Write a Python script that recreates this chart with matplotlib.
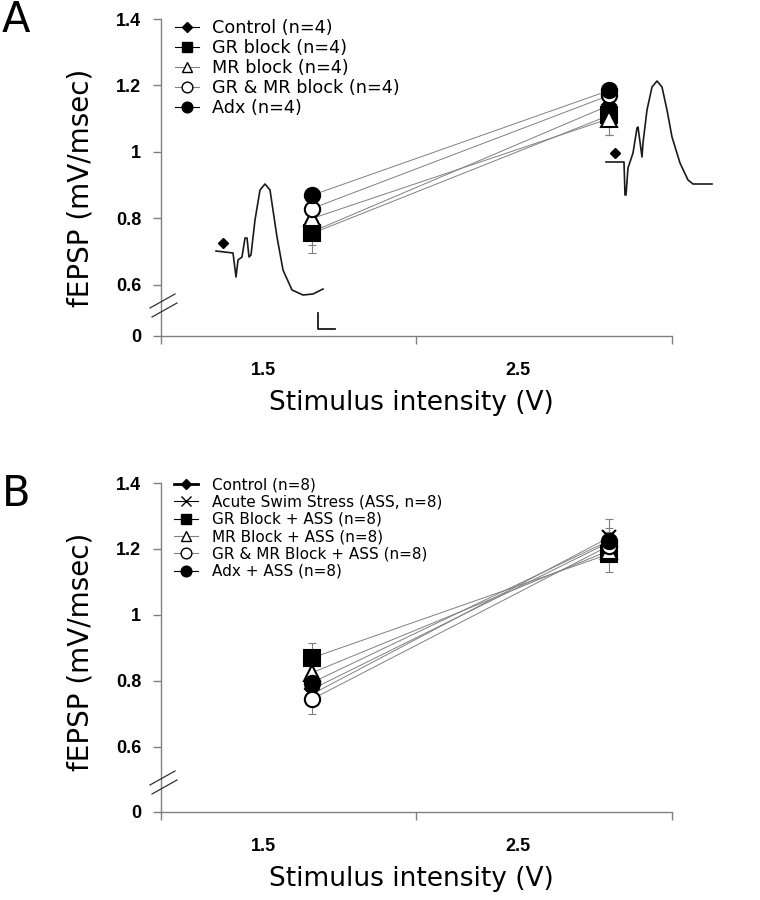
import numpy as np
import matplotlib
matplotlib.use("Agg")
import matplotlib.pyplot as plt

# stimulus intensity (V)
stim = [1.5, 2.5]
tick_text = ["1.5", "2.5"]

# panel A - fEPSP slope (mV/msec), mean and error
labels_a = ["Control (n=4)", "GR block (n=4)", "MR block (n=4)",
            "GR & MR block (n=4)", "Adx (n=4)"]
ctrl_a = [0.76, 1.14]
gr_a = [0.755, 1.11]
mr_a = [0.80, 1.10]
grmr_a = [0.83, 1.17]
adx_a = [0.87, 1.185]
err_ctrl_a = [0.04, 0.04]
err_gr_a = [0.06, 0.06]
err_mr_a = [0.05, 0.05]
err_grmr_a = [0.03, 0.03]
err_adx_a = [0.015, 0.015]

# panel B
labels_b = ["Control (n=8)", "Acute Swim Stress (ASS, n=8)", "GR Block + ASS (n=8)",
            "MR Block + ASS (n=8)", "GR & MR Block + ASS (n=8)", "Adx + ASS (n=8)"]
ctrl_b = [0.775, 1.22]
ass_b = [0.76, 1.235]
gr_b = [0.87, 1.185]
mr_b = [0.825, 1.195]
grmr_b = [0.745, 1.21]
adx_b = [0.795, 1.225]
err_ctrl_b = [0.03, 0.03]
err_ass_b = [0.03, 0.03]
err_gr_b = [0.045, 0.055]
err_mr_b = [0.03, 0.03]
err_grmr_b = [0.045, 0.03]
err_adx_b = [0.03, 0.065]

# example fEPSP traces (time px, amplitude px)
trace1_t = [0, 17, 20, 22, 26, 29, 31, 33, 35, 39, 44, 49, 54, 61, 67, 76, 87, 97, 107]
trace1_v = [0, -2, -26, -9, -6, 13, 13, -6, -4, 31, 61, 67, 61, 14, -19, -39, -44, -43, -38]
trace2_t = [0, 18, 19, 20, 22, 27, 31, 32, 36, 37, 41, 46, 51, 56, 61, 66, 74, 82, 87, 106]
trace2_v = [0, 0, -33, -33, -6, 9, 34, 35, 5, 19, 52, 75, 81, 75, 52, 25, -1, -18, -22, -22]

W, H = 760, 900
fig = plt.figure(figsize=(7.6, 9), dpi=100)

GRAY = "#808080"
x_left, x_mid, x_right = 0.9916, 1.850, 2.712
x_lab = [1.335, 2.194]


def px_axes(l, t, r, b):
    return [l / W, 1 - b / H, (r - l) / W, (b - t) / H]


def setup_axis(ax, y0):
    ax.set_xlim(x_left, x_right)
    ax.set_ylim(y0, 1.4)
    for s in ["top", "right"]:
        ax.spines[s].set_visible(False)
    for s in ["left", "bottom"]:
        ax.spines[s].set_color(GRAY)
        ax.spines[s].set_linewidth(1)
    ax.set_xticks([x_left, x_mid, x_right])
    ax.set_xticklabels([])
    ax.set_xticks(x_lab, minor=True)
    ax.set_xticklabels(tick_text, minor=True, fontsize=13, fontweight="bold",
                       family="Liberation Sans")
    ax.tick_params(axis="x", which="major", length=5.5, color=GRAY, width=1)
    ax.tick_params(axis="x", which="minor", length=0, pad=19)
    ax.set_yticks([y0, 0.6, 0.8, 1.0, 1.2, 1.4])
    ax.set_yticklabels(["0", "0.6", "0.8", "1", "1.2", "1.4"], fontsize=13,
                       fontweight="bold", family="Liberation Sans")
    ax.tick_params(axis="y", length=5.8, color=GRAY, width=1, pad=8.5)
    ax.patch.set_alpha(0)


def draw_series(ax, vals, errs, marker, face, ms):
    ax.errorbar(stim, vals, yerr=errs, fmt="none", ecolor=GRAY, elinewidth=0.8,
                capsize=3, capthick=0.8, zorder=1)
    ax.plot(stim, vals, color=GRAY, lw=0.7, zorder=2)
    ax.plot(stim, vals, ls="none", marker=marker, ms=ms, mfc=face, mec="black",
            mew=1.5, zorder=3)


def legend_handles(specs, ctrl_lw):
    hs = []
    for i, (marker, face, ms) in enumerate(specs):
        lw = ctrl_lw if i == 0 else 0.8
        col = "black" if face == "black" or marker == "x" else GRAY
        h, = plt.plot([], [], color=col, lw=lw, marker=marker, ms=ms * 0.7,
                      mfc=face, mec="black", mew=1)
        hs.append(h)
    return hs


# ---------- panel A ----------
axA = fig.add_axes(px_axes(161, 19, 672, 336))
setup_axis(axA, 0.4466)
specs_a = [("D", "black", 7), ("s", "black", 11), ("^", "white", 11),
           ("o", "white", 11), ("o", "black", 11)]
series_a = [(ctrl_a, err_ctrl_a), (gr_a, err_gr_a), (mr_a, err_mr_a),
            (grmr_a, err_grmr_a), (adx_a, err_adx_a)]
for (vals, errs), (m, f, ms) in zip(series_a, specs_a):
    draw_series(axA, vals, errs, m, f, ms)
hA = legend_handles(specs_a, 0.8)
axA.legend(hA, labels_a, loc="upper left", bbox_to_anchor=(0.027, 1.0),
           frameon=False, handlelength=1.35, handletextpad=0.75,
           labelspacing=0.12, borderpad=0, borderaxespad=0,
           prop={"family": "DejaVu Sans", "size": 12.7})

# ---------- panel B ----------
axB = fig.add_axes(px_axes(161, 483, 672, 812))
setup_axis(axB, 0.403)
specs_b = [("D", "black", 7), ("x", "black", 10), ("s", "black", 11),
           ("^", "white", 11), ("o", "white", 11), ("o", "black", 11)]
series_b = [(ctrl_b, err_ctrl_b), (ass_b, err_ass_b), (gr_b, err_gr_b),
            (mr_b, err_mr_b), (grmr_b, err_grmr_b), (adx_b, err_adx_b)]
for (vals, errs), (m, f, ms) in zip(series_b, specs_b):
    draw_series(axB, vals, errs, m, f, ms)
hB = legend_handles(specs_b, 2.0)
axB.legend(hB, labels_b, loc="upper left", bbox_to_anchor=(0.025, 1.017),
           frameon=False, handlelength=1.6, handletextpad=0.9,
           labelspacing=0.15, borderpad=0, borderaxespad=0,
           prop={"family": "DejaVu Sans", "size": 11})

# ---------- overlay for traces, axis breaks, texts ----------
ov = fig.add_axes([0, 0, 1, 1])
ov.set_xlim(0, W)
ov.set_ylim(H, 0)
ov.axis("off")

t1 = np.array(trace1_t)
v1 = np.array(trace1_v)
ov.plot(216 + t1, 251 - v1, color="#1a1a1a", lw=1.2)
ov.plot([223], [243], marker="D", ms=5, color="black")
t2 = np.array(trace2_t)
v2 = np.array(trace2_v)
ov.plot(606 + t2, 162 - v2, color="#1a1a1a", lw=1.2)
ov.plot([615], [153], marker="D", ms=5, color="black")
# scale bar
ov.plot([318, 318, 335], [313, 329, 329], color="#1a1a1a", lw=1.3)

# axis break marks
for yoff in [0, 477]:
    ov.plot([150, 175], [308 + yoff, 294 + yoff], color="#333333", lw=0.9)
    ov.plot([152, 177], [317 + yoff, 303 + yoff], color="#333333", lw=0.9)

ov.text(80, 188, "fEPSP (mV/msec)", rotation=90, ha="center", va="center",
        fontsize=20, family="DejaVu Sans")
ov.text(80, 652, "fEPSP (mV/msec)", rotation=90, ha="center", va="center",
        fontsize=20, family="DejaVu Sans")
ov.text(411, 403, "Stimulus intensity (V)", ha="center", va="center",
        fontsize=19, family="DejaVu Sans")
ov.text(411, 879, "Stimulus intensity (V)", ha="center", va="center",
        fontsize=19, family="DejaVu Sans")
ov.text(2, 20, "A", ha="left", va="center", fontsize=30, family="DejaVu Sans")
ov.text(2, 494, "B", ha="left", va="center", fontsize=30, family="DejaVu Sans")

fig.savefig("out.png", dpi=100)
